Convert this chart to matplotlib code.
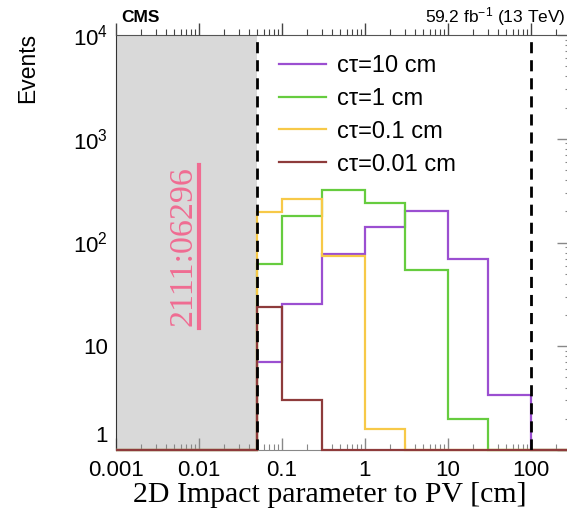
import numpy as np
import matplotlib
matplotlib.use("Agg")
import matplotlib.pyplot as plt
from matplotlib.lines import Line2D
from matplotlib.ticker import FixedLocator, FixedFormatter, LogLocator, NullFormatter

plt.rcParams['font.family'] = ['Liberation Sans', 'DejaVu Sans']
plt.rcParams['mathtext.fontset'] = 'custom'
plt.rcParams['mathtext.rm'] = 'Liberation Sans'
plt.rcParams['mathtext.it'] = 'Liberation Sans:italic'
plt.rcParams['mathtext.bf'] = 'Liberation Sans:bold'

# bin edges in cm
edges = [0.001, 0.05, 0.1, 0.3, 1, 3, 10, 30, 100, 300]

# event counts per bin, one list per lifetime
ct10 = [0, 7.1, 25.5, 77, 140, 200, 69, 3.4, 0]
ct1 = [0, 62, 179, 318, 242, 54, 2.0, 0, 0]
ct01 = [0, 195, 263, 74, 1.6, 0, 0, 0, 0]
ct001 = [0, 24, 3.0, 0, 0, 0, 0, 0, 0]

labels = ['cτ=10 cm', 'cτ=1 cm', 'cτ=0.1 cm', 'cτ=0.01 cm']
colors = ['#9b4fd1', '#66cc3f', '#f7c948', '#8e3b3b']

cut_lo = 0.05
cut_hi = 100

xticks = [0.001, 0.01, 0.1, 1, 10, 100]
xticklabels = ['0.001', '0.01', '0.1', '1', '10', '100']
yticks = [1, 10, 100, 1000, 10000]
yticklabels = ['', '10', '10$^{2}$', '10$^{3}$', '10$^{4}$']

W, H = 567, 515
fig = plt.figure(figsize=(W / 100, H / 100), dpi=100)
ax = fig.add_axes([116 / W, (H - 450) / H, (570.6 - 116) / W, (450 - 35) / H])
ax.set_xscale('log')
ax.set_yscale('log')
ax.set_xlim(0.001, 300)
ax.set_ylim(1, 10000)

ax.axvspan(0.001, cut_lo, color='#d9d9d9', zorder=0, lw=0)

for vals, lab, col in zip([ct10, ct1, ct01, ct001], labels, colors):
    v = np.array(vals, dtype=float)
    v = np.where(v > 0, v, 1.0)
    ax.stairs(v, edges, baseline=None, color=col, lw=1.6, label=lab,
              clip_on=False, zorder=3)

for xc in [cut_lo, cut_hi]:
    ax.axvline(xc, color='black', lw=2, ls=(0, (4, 2.5)), zorder=4)

ax.xaxis.set_major_locator(FixedLocator(xticks))
ax.xaxis.set_major_formatter(FixedFormatter(xticklabels))
ax.xaxis.set_minor_locator(LogLocator(base=10, subs=np.arange(2, 10)))
ax.xaxis.set_minor_formatter(NullFormatter())
ax.yaxis.set_major_locator(FixedLocator(yticks))
ax.yaxis.set_major_formatter(FixedFormatter(yticklabels))
ax.yaxis.set_minor_locator(LogLocator(base=10, subs=np.arange(2, 10)))
ax.yaxis.set_minor_formatter(NullFormatter())

ax.tick_params(axis='x', which='both', bottom=True, top=False, direction='in',
               color='#888888', labelsize=16, pad=7)
ax.tick_params(axis='x', which='major', length=9, width=1)
ax.tick_params(axis='x', which='minor', length=4.5, width=0.8)
ax.tick_params(axis='y', which='both', left=False, right=True, direction='in',
               color='#888888', labelsize=16, pad=6)
ax.tick_params(axis='y', which='major', length=10, width=1)
ax.tick_params(axis='y', which='minor', length=4.5, width=0.8)

# the "1" label sits a little above the axis corner, as in ROOT
ax.annotate('1', xy=(0, 0), xycoords='axes fraction', xytext=(-6, 2),
            textcoords='offset points', ha='right', va='bottom', fontsize=16)

ax.spines['bottom'].set_color('#888888')
ax.spines['left'].set_color('#333333')
ax.spines['top'].set_color('#555555')
ax.spines['right'].set_visible(False)

top = ax.twiny()
top.set_xscale('log')
top.set_xlim(ax.get_xlim())
top.xaxis.set_major_locator(FixedLocator(xticks))
top.xaxis.set_minor_locator(LogLocator(base=10, subs=np.arange(2, 10)))
top.xaxis.set_major_formatter(NullFormatter())
top.xaxis.set_minor_formatter(NullFormatter())
top.tick_params(axis='x', which='both', direction='out', color='#444444')
top.tick_params(axis='x', which='major', length=8.5, width=1)
top.tick_params(axis='x', which='minor', length=4.3, width=0.8)
for s in top.spines.values():
    s.set_visible(False)

ax.legend(loc='upper left', bbox_to_anchor=(279 / W, 1 - 55 / H),
          bbox_transform=fig.transFigure, frameon=False, fontsize=17,
          handlelength=2.0, handletextpad=0.45, labelspacing=0.46,
          borderpad=0, borderaxespad=0)

fig.text(28 / W, 1 - 33 / H, 'Events', rotation=90, va='top', ha='center',
         fontsize=16.5)
fig.text(330 / W, 1 - 495 / H, '2D Impact parameter to PV [cm]',
         ha='center', va='center', fontsize=21.5, family='Liberation Serif')
fig.text(121 / W, 1 - 17 / H, 'CMS', fontweight='bold', fontsize=12.5,
         ha='left', va='center')
fig.text(566 / W, 1 - 17 / H, '59.2 fb$^{-1}$ (13 TeV)', fontsize=12.5,
         ha='right', va='center')

fig.text(183 / W, 1 - 246 / H, '2111:06296', rotation=90, ha='center',
         va='center', fontsize=24.5, family='Liberation Serif', color='#f06c92')
fig.add_artist(Line2D([199 / W, 199 / W], [1 - 165 / H, 1 - 328 / H],
                      transform=fig.transFigure, color='#f06c92', lw=3))

fig.savefig('out.png', dpi=100)
